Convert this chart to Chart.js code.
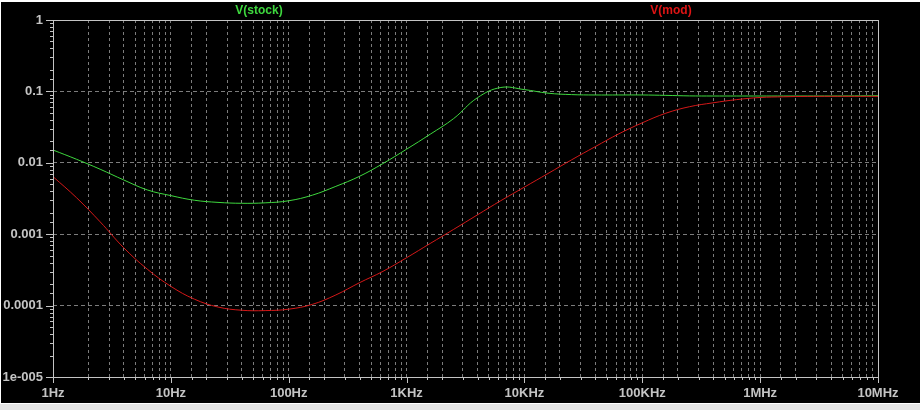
<!DOCTYPE html>
<html>
<head>
<meta charset="utf-8">
<script src="https://cdn.jsdelivr.net/npm/chart.js@4.4.1/dist/chart.umd.min.js"></script>
<style>
html, body { margin: 0; padding: 0; background: #fff; }
#wrap { position: relative; width: 920px; height: 410px; }
</style>
</head>
<body>
<div id="wrap"><canvas id="plot" width="920" height="410"></canvas></div>
<script>
// frequencies (Hz), five per decade, and magnitudes
const freqs = [1, 1.585, 2.512, 3.981, 6.31, 10, 15.85, 25.12, 39.81, 63.1,
  100, 158.5, 251.2, 398.1, 631, 1000, 1585, 2512, 3981, 6310,
  10000, 15850, 25120, 39810, 63100, 1e5, 158500, 251200, 398100, 631000,
  1e6, 1.585e6, 2.512e6, 3.981e6, 6.31e6, 1e7]
const vStock = [0.0151, 0.0112, 0.00813, 0.00575, 0.00417, 0.00347, 0.00299, 0.00279, 0.00271, 0.00275,
  0.00294, 0.00352, 0.00468, 0.00646, 0.00977, 0.0155, 0.0251, 0.0417, 0.0813, 0.1135,
  0.106, 0.0944, 0.0902, 0.0891, 0.0891, 0.0891, 0.088, 0.0865, 0.0862, 0.0862,
  0.0862, 0.0862, 0.0862, 0.0862, 0.0865, 0.087]
const vMod = [0.0064, 0.00324, 0.00149, 0.000646, 0.000324, 0.000186, 0.000123, 0.0000955, 0.0000861, 0.0000851,
  0.0000891, 0.000104, 0.000141, 0.000209, 0.000302, 0.000468, 0.000741, 0.00117, 0.00186, 0.00295,
  0.00457, 0.00708, 0.011, 0.0168, 0.0254, 0.0363, 0.0495, 0.061, 0.0692, 0.0767,
  0.0822, 0.0841, 0.0851, 0.0853, 0.0853, 0.0853]

const xTickLabels = ['1Hz', '10Hz', '100Hz', '1KHz', '10KHz', '100KHz', '1MHz', '10MHz']
const yTickLabels = ['1e-005', '0.0001', '0.001', '0.01', '0.1', '1']

const grey = '#c4c4c4'
const gridGrey = '#7c7c7c'
const labelFont = { family: 'Liberation Sans', size: 13, weight: 'bold' }

const isDecade = v => Math.abs(Math.log10(v) - Math.round(Math.log10(v))) < 1e-6

const toPoints = (xs, ys) => xs.map((x, i) => ({ x: x, y: ys[i] }))

const ltspiceLook = {
  id: 'ltspiceLook',
  beforeDraw(chart) {
    const c = chart.ctx
    c.save()
    c.fillStyle = '#ffffff'
    c.fillRect(0, 0, 920, 410)
    c.fillStyle = '#000000'
    c.fillRect(1, 2, 919, 401)
    c.fillStyle = '#e4e4e4'
    c.fillRect(0, 404, 920, 6)
    c.restore()
  },
  afterDraw(chart) {
    const c = chart.ctx
    const a = chart.chartArea
    const xs = chart.scales.x
    const ys = chart.scales.y
    c.save()
    c.strokeStyle = grey
    c.lineWidth = 1
    c.beginPath()
    xs.ticks.forEach(t => {
      const px = Math.round(xs.getPixelForValue(t.value)) + 0.5
      const len = isDecade(t.value) ? 6 : 3
      c.moveTo(px, a.bottom)
      c.lineTo(px, a.bottom + len)
    })
    ys.ticks.forEach(t => {
      const py = Math.round(ys.getPixelForValue(t.value)) + 0.5
      const len = isDecade(t.value) ? 7 : 3
      c.moveTo(a.left, py)
      c.lineTo(a.left - len, py)
    })
    c.stroke()
    c.strokeRect(Math.round(a.left) + 0.5, Math.round(a.top) + 0.5, Math.round(a.right - a.left), Math.round(a.bottom - a.top))

    // trace names
    c.font = 'bold 12px "Liberation Sans"'
    c.textAlign = 'center'
    c.textBaseline = 'middle'
    c.fillStyle = '#3ed83e'
    c.fillText('V(stock)', 259, 11)
    c.fillStyle = '#e01414'
    c.fillText('V(mod)', 671, 11)
    c.restore()
  }
}

const ctx = document.getElementById('plot')
const plot = new Chart(ctx, {
  type: 'line',
  data: {
    datasets: [{
      label: 'V(mod)',
      data: toPoints(freqs, vMod),
      borderColor: '#d41818',
      borderWidth: 1,
      pointRadius: 0,
      tension: 0.4
    }, {
      label: 'V(stock)',
      data: toPoints(freqs, vStock),
      borderColor: '#3ed83e',
      borderWidth: 1,
      pointRadius: 0,
      tension: 0.4
    }]
  },
  options: {
    responsive: false,
    animation: false,
    layout: { padding: { top: 20, right: 42, left: 0, bottom: 0 } },
    scales: {
      x: {
        type: 'logarithmic',
        min: 1,
        max: 1e7,
        grid: { color: gridGrey, drawTicks: false, lineWidth: 1 },
        border: { display: false, dash: [3, 3] },
        ticks: {
          autoSkip: false,
          maxRotation: 0,
          color: grey,
          font: labelFont,
          padding: 9,
          callback: v => isDecade(v) ? xTickLabels[Math.round(Math.log10(v))] : ''
        },
        afterFit: s => { s.height = 33 }
      },
      y: {
        type: 'logarithmic',
        min: 1e-5,
        max: 1,
        grid: {
          color: c => (c.tick && isDecade(c.tick.value)) ? gridGrey : 'rgba(0,0,0,0)',
          drawTicks: false,
          lineWidth: 1
        },
        border: { display: false, dash: [4, 3] },
        ticks: {
          autoSkip: false,
          color: grey,
          font: labelFont,
          padding: 10,
          callback: v => isDecade(v) ? yTickLabels[Math.round(Math.log10(v)) + 5] : ''
        },
        afterFit: s => { s.width = 53 }
      }
    },
    plugins: {
      legend: { display: false },
      tooltip: { enabled: false }
    }
  },
  plugins: [ltspiceLook]
})
</script>
</body>
</html>
